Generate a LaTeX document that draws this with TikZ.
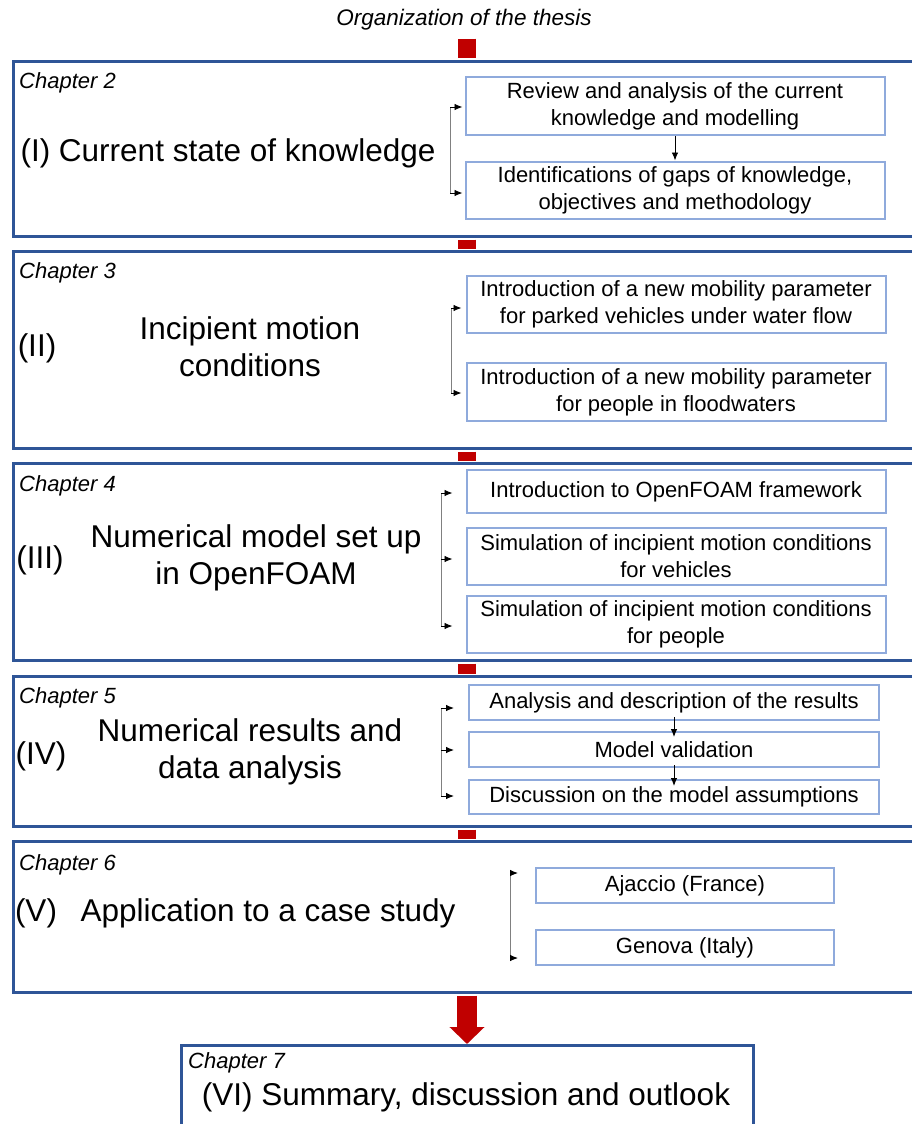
\documentclass[tikz,border=0pt]{standalone}
\usepackage{fontspec}
\setmainfont{Liberation Sans}
\usetikzlibrary{arrows.meta}
\definecolor{chapblue}{HTML}{2F5597}
\definecolor{subblue}{HTML}{8FAADC}
\definecolor{linkred}{HTML}{C00000}

\begin{document}
\begin{tikzpicture}[x=1pt,y=-1pt,
  chapbox/.style={draw=chapblue,line width=3pt,anchor=north west,inner sep=0pt,minimum width=940pt},
  subbox/.style={draw=subblue,line width=2pt,inner sep=0pt,minimum width=419pt,align=center,font=\fontsize{22}{27}\selectfont},
  chaplabel/.style={anchor=west,inner sep=0pt,font=\fontsize{22}{26}\selectfont\itshape},
  chaptitle/.style={inner sep=0pt,align=center,font=\fontsize{31.5}{37}\selectfont},
  redlink/.style={draw=linkred,line width=18pt,shorten <=1.5pt,shorten >=1.5pt},
  brace/.style={draw=gray,line width=1pt},
  stub/.style={-{Latex[length=8pt,width=6.5pt]},line width=0.9pt}]
  \useasboundingbox (0,0) rectangle (912,1124);
  \clip (0,0) rectangle (912,1124);
  \fill[white] (0,0) rectangle (912,1124);
  \coordinate (spine) at (467,0);

  \node[inner sep=0pt,font=\fontsize{22.5}{27}\selectfont\itshape] (head) at (464,20) {Organization of the thesis};

  % chapter frames
  \node[chapbox,minimum height=175pt] (c1) at (12,60) {};
  \node[chapbox,minimum height=197pt] (c2) at (12,250) {};
  \node[chapbox,minimum height=197pt] (c3) at (12,462) {};
  \node[chapbox,minimum height=150pt] (c4) at (12,675) {};
  \node[chapbox,minimum height=151pt] (c5) at (12,840) {};
  \node[chapbox,minimum width=572pt,minimum height=100pt] (c6) at (180,1044) {};

  \draw[redlink,shorten <=8pt] (head.south -| spine) -- (c1.north -| spine);
  \draw[redlink] (c1.south -| spine) -- (c2.north -| spine);
  \draw[redlink] (c2.south -| spine) -- (c3.north -| spine);
  \draw[redlink] (c3.south -| spine) -- (c4.north -| spine);
  \draw[redlink] (c4.south -| spine) -- (c5.north -| spine);
  \draw[linkred,line width=20pt,shorten <=1.5pt,-{Triangle[length=17pt,width=34pt]}] (c5.south -| spine) -- (c6.north -| spine);

  \node[chaplabel] (l2) at (19,83) {Chapter 2};
  \node[chaplabel] (l3) at (19,273) {Chapter 3};
  \node[chaplabel] (l4) at (19,486) {Chapter 4};
  \node[chaplabel] (l5) at (19,698) {Chapter 5};
  \node[chaplabel] (l6) at (19,865) {Chapter 6};
  \node[chaplabel] (l7) at (188,1063) {Chapter 7};

  \node[chaptitle] (t1) at (228,153) {(I) Current state of knowledge};
  \node[chaptitle] (n2) at (37,348) {(II)};
  \node[chaptitle] (t2) at (250,347) {Incipient motion\\conditions};
  \node[chaptitle] (n3) at (40,560) {(III)};
  \node[chaptitle] (t3) at (256,558) {Numerical model set up\\in OpenFOAM};
  \node[chaptitle] (n4) at (41,756) {(IV)};
  \node[chaptitle] (t4) at (250,752) {Numerical results and\\data analysis};
  \node[chaptitle] (n5) at (36,913) {(V)};
  \node[chaptitle] (t5) at (268,913) {Application to a case study};
  \node[chaptitle] (t6) at (466,1097) {(VI) Summary, discussion and outlook};

  % chapter 2
  \node[subbox,minimum height=58pt] (A) at (675,106) {Review and analysis of the current\\knowledge and modelling};
  \node[subbox,minimum height=57pt] (B) at (675,190) {Identifications of gaps of knowledge,\\objectives and methodology};
  \draw[stub] (A.south) -- (A.south |- B.north);
  \coordinate (a1) at (450,107);
  \coordinate (a2) at (450,193);
  \draw[brace] (a1) -- (a2);
  \draw[stub,shorten >=2pt] (a1) -- (a1 -| A.west);
  \draw[stub,shorten >=2pt] (a2) -- (a2 -| B.west);

  % chapter 3
  \node[subbox,minimum height=57pt] (C) at (676,304) {Introduction of a new mobility parameter\\for parked vehicles under water flow};
  \node[subbox,minimum height=58pt] (D) at (676,392) {Introduction of a new mobility parameter\\for people in floodwaters};
  \coordinate (b1) at (451,308);
  \coordinate (b2) at (451,393);
  \draw[brace] (b1) -- (b2);
  \draw[stub,shorten >=4pt] (b1) -- (b1 -| C.west);
  \draw[stub,shorten >=4pt] (b2) -- (b2 -| D.west);

  % chapter 4
  \node[subbox,minimum height=43pt] (E) at (676,491.5) {Introduction to OpenFOAM framework};
  \node[subbox,minimum height=57pt] (F) at (676,556.5) {Simulation of incipient motion conditions\\for vehicles};
  \node[subbox,minimum height=57pt] (G) at (676,624.5) {Simulation of incipient motion conditions\\for people};
  \coordinate (d1) at (441,493);
  \coordinate (d2) at (441,559);
  \coordinate (d3) at (441,626);
  \draw[brace] (d1) -- (d3);
  \draw[stub,shorten >=13pt] (d1) -- (d1 -| E.west);
  \draw[stub,shorten >=13pt] (d2) -- (d2 -| F.west);
  \draw[stub,shorten >=13pt] (d3) -- (d3 -| G.west);

  % chapter 5
  \node[subbox,minimum width=410pt,minimum height=35pt] (H) at (674,702.5) {Analysis and description of the results};
  \node[subbox,minimum width=410pt,minimum height=35pt] (I) at (674,749.5) {Model validation};
  \node[subbox,minimum width=410pt,minimum height=34pt] (J) at (674,797) {Discussion on the model assumptions};
  \draw[stub] ([yshift=4pt]H.south) -- ([yshift=-6pt]I.north);
  \draw[stub] ([yshift=3pt]I.south) -- ([yshift=-7pt]J.north);
  \coordinate (e1) at (441,708);
  \coordinate (e2) at (441,750);
  \coordinate (e3) at (441,796);
  \draw[brace] (e1) -- (e3);
  \draw[stub,shorten >=14pt] (e1) -- (e1 -| H.west);
  \draw[stub,shorten >=14pt] (e2) -- (e2 -| I.west);
  \draw[stub,shorten >=14pt] (e3) -- (e3 -| J.west);

  % chapter 6
  \node[subbox,minimum width=298pt,minimum height=35pt] (K) at (685,885.5) {Ajaccio (France)};
  \node[subbox,minimum width=298pt,minimum height=35pt] (L) at (685,947.5) {Genova (Italy)};
  \coordinate (f1) at (510,873);
  \coordinate (f2) at (510,958);
  \draw[brace] (f1) -- (f2);
  \draw[stub,shorten >=17pt] (f1) -- (f1 -| K.west);
  \draw[stub,shorten >=17pt] (f2) -- (f2 -| L.west);
\end{tikzpicture}
\end{document}
